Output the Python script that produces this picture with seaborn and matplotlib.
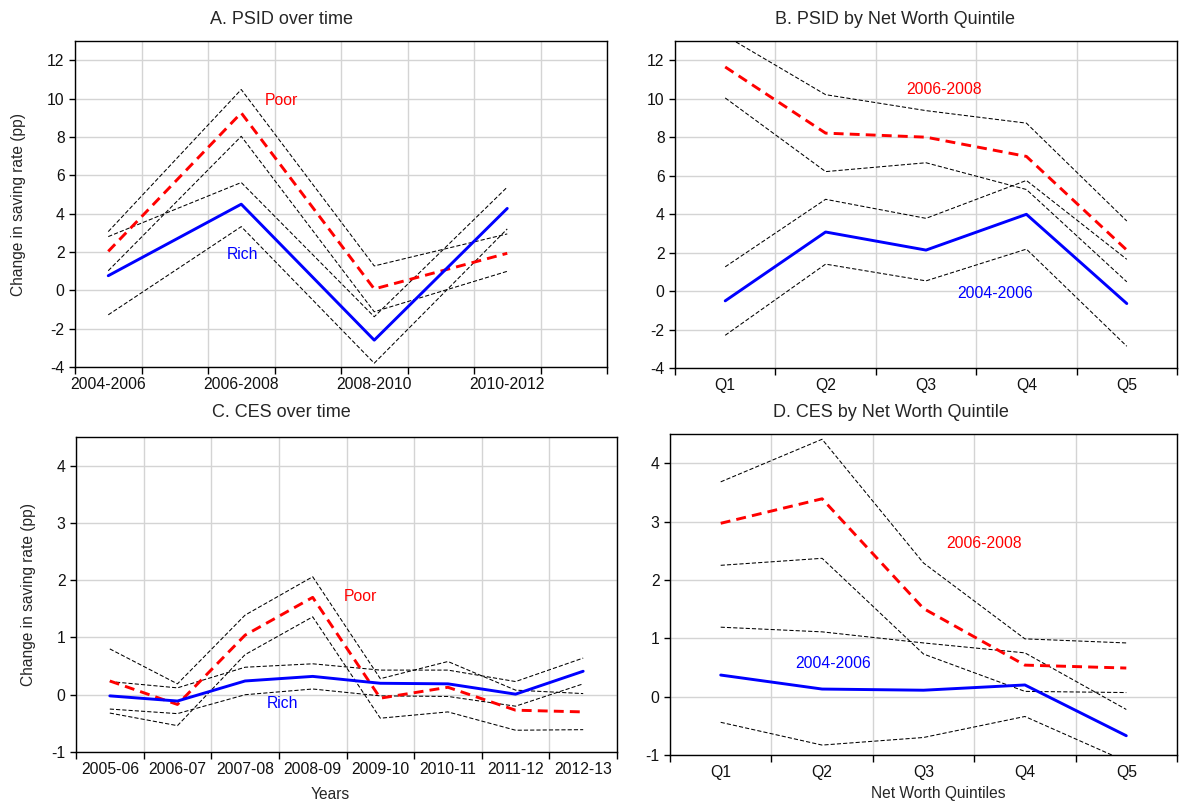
import numpy as np
import pandas as pd
import matplotlib
matplotlib.use("Agg")
import matplotlib.pyplot as plt
import seaborn as sns

# ---------------- data ----------------
# Panel A: PSID over time
psid_periods = ["2004-2006", "2006-2008", "2008-2010", "2010-2012"]
psid_poor = [2.03, 9.25, 0.07, 1.93]
psid_poor_hi = [3.06, 10.47, 1.27, 2.94]
psid_poor_lo = [1.02, 8.03, -1.12, 0.99]
psid_rich = [0.76, 4.49, -2.60, 4.27]
psid_rich_hi = [2.80, 5.62, -1.38, 5.38]
psid_rich_lo = [-1.28, 3.32, -3.80, 3.20]

# Panel B: PSID by net worth quintile
quintiles = ["Q1", "Q2", "Q3", "Q4", "Q5"]
psidq_0608 = [11.65, 8.21, 8.00, 7.00, 2.13]
psidq_0608_hi = [13.28, 10.21, 9.38, 8.73, 3.64]
psidq_0608_lo = [10.04, 6.21, 6.67, 5.28, 0.48]
psidq_0406 = [-0.51, 3.07, 2.13, 3.99, -0.65]
psidq_0406_hi = [1.26, 4.77, 3.78, 5.75, 1.65]
psidq_0406_lo = [-2.30, 1.40, 0.53, 2.18, -2.87]

# Panel C: CES over time
ces_years = ["2005-06", "2006-07", "2007-08", "2008-09",
             "2009-10", "2010-11", "2011-12", "2012-13"]
ces_poor = [0.24, -0.17, 1.04, 1.70, -0.06, 0.13, -0.27, -0.30]
ces_poor_hi = [0.80, 0.19, 1.39, 2.06, 0.28, 0.58, 0.08, 0.02]
ces_poor_lo = [-0.32, -0.54, 0.70, 1.36, -0.41, -0.30, -0.62, -0.61]
ces_rich = [-0.02, -0.11, 0.24, 0.32, 0.20, 0.19, 0.01, 0.41]
ces_rich_hi = [0.23, 0.12, 0.48, 0.54, 0.43, 0.43, 0.23, 0.64]
ces_rich_lo = [-0.25, -0.33, 0.00, 0.10, -0.02, -0.03, -0.20, 0.19]

# Panel D: CES by net worth quintile
cesq_0608 = [2.97, 3.39, 1.51, 0.54, 0.49]
cesq_0608_hi = [3.68, 4.41, 2.29, 0.99, 0.92]
cesq_0608_lo = [2.25, 2.37, 0.73, 0.09, 0.07]
cesq_0406 = [0.37, 0.13, 0.11, 0.20, -0.67]
cesq_0406_hi = [1.19, 1.11, 0.92, 0.75, -0.22]
cesq_0406_lo = [-0.44, -0.83, -0.70, -0.34, -1.11]

# ---------------- style ----------------
sns.set_theme(style="white")
plt.rcParams["font.family"] = ["Liberation Sans", "DejaVu Sans"]
plt.rcParams["axes.unicode_minus"] = False

RED = "#ff0000"
BLUE = "#0000ff"
GRID = "#d4d4d4"
TICK_FS = 11.3
ANN_FS = 11.3

fig = plt.figure(figsize=(11.82, 8.02), dpi=100)
W, H = 1182.0, 802.0


def make_ax(l, r, t, b):
    return fig.add_axes([l / W, 1 - b / H, (r - l) / W, (b - t) / H])


axA = make_ax(75, 607, 41, 367)
axB = make_ax(675, 1177, 41, 368)
axC = make_ax(76, 617, 437, 752)
axD = make_ax(670, 1177, 434, 755)


def draw(ax, x, main_red, main_blue, bands):
    for vals in bands:
        sns.lineplot(x=x, y=vals, ax=ax, color="black", linewidth=0.75,
                     linestyle=(0, (4, 2)), sort=False, errorbar=None)
    sns.lineplot(x=x, y=main_red, ax=ax, color=RED, linewidth=2.1,
                 linestyle=(0, (3.4, 2.1)), sort=False, errorbar=None)
    sns.lineplot(x=x, y=main_blue, ax=ax, color=BLUE, linewidth=2.1,
                 sort=False, errorbar=None)


def style_ax(ax, xmajor, xlabels, xminor, xlim, yticks, ylim):
    ax.set_xlim(*xlim)
    ax.set_ylim(*ylim)
    ax.set_xticks(xmajor)
    ax.set_xticklabels(xlabels)
    ax.set_xticks(xminor, minor=True)
    ax.set_yticks(yticks)
    ax.set_yticklabels([str(v) for v in yticks])
    ax.tick_params(axis="x", which="major", length=0, labelsize=TICK_FS, pad=7,
                   colors="#111111")
    ax.tick_params(axis="x", which="minor", length=5, width=1.0,
                   direction="out", color="black", bottom=True)
    ax.tick_params(axis="y", which="major", length=4, width=1.0,
                   direction="out", labelsize=TICK_FS, left=True,
                   colors="#111111")
    ax.tick_params(axis="y", which="major", color="black")
    ax.grid(False)
    ax.grid(True, which="minor", axis="x", color=GRID, linewidth=1.0)
    ax.grid(True, which="major", axis="y", color=GRID, linewidth=1.0)
    ax.set_axisbelow(True)
    for sp in ax.spines.values():
        sp.set_visible(True)
        sp.set_color("black")
        sp.set_linewidth(1.0)
    ax.set_xlabel("")
    ax.set_ylabel("")


# ---- Panel A ----
psid_x = [int(p[:4]) + 0.5 for p in psid_periods]
draw(axA, psid_x, psid_poor, psid_rich,
     [psid_poor_hi, psid_poor_lo, psid_rich_hi, psid_rich_lo])
style_ax(axA, psid_x, psid_periods, np.arange(2004, 2013), (2004, 2012),
         list(range(-4, 13, 2)), (-4, 13))
axA.text(2007.1, 9.9, "Poor", color=RED, fontsize=ANN_FS, ha="center", va="center")
axA.text(2006.52, 1.86, "Rich", color=BLUE, fontsize=ANN_FS, ha="center", va="center")
axA.set_ylabel("Change in saving rate (pp)", fontsize=11.2, labelpad=15)

# ---- Panel B ----
draw(axB, quintiles, psidq_0608, psidq_0406,
     [psidq_0608_hi, psidq_0608_lo, psidq_0406_hi, psidq_0406_lo])
style_ax(axB, np.arange(len(quintiles)), quintiles,
         np.arange(len(quintiles) + 1) - 0.5, (-0.5, len(quintiles) - 0.5),
         list(range(-4, 13, 2)), (-4, 13))
axB.text(2.18, 10.5, "2006-2008", color=RED, fontsize=ANN_FS, ha="center", va="center")
axB.text(2.69, -0.13, "2004-2006", color=BLUE, fontsize=ANN_FS, ha="center", va="center")

# ---- Panel C ----
ces_x = [int(p[:4]) + 0.5 for p in ces_years]
draw(axC, ces_x, ces_poor, ces_rich,
     [ces_poor_hi, ces_poor_lo, ces_rich_hi, ces_rich_lo])
style_ax(axC, ces_x, ces_years, np.arange(2005, 2014), (2005, 2013),
         list(range(-1, 5)), (-1, 4.5))
axC.text(2009.2, 1.71, "Poor", color=RED, fontsize=ANN_FS, ha="center", va="center")
axC.text(2008.05, -0.15, "Rich", color=BLUE, fontsize=ANN_FS, ha="center", va="center")
axC.set_ylabel("Change in saving rate (pp)", fontsize=11.2, labelpad=11)
axC.set_xlabel("Years", fontsize=11.2)
axC.xaxis.set_label_coords(0.47, -0.112)

# ---- Panel D ----
draw(axD, quintiles, cesq_0608, cesq_0406,
     [cesq_0608_hi, cesq_0608_lo, cesq_0406_hi, cesq_0406_lo])
style_ax(axD, np.arange(len(quintiles)), quintiles,
         np.arange(len(quintiles) + 1) - 0.5, (-0.5, len(quintiles) - 0.5),
         list(range(-1, 5)), (-1, 4.5))
axD.text(2.6, 2.62, "2006-2008", color=RED, fontsize=ANN_FS, ha="center", va="center")
axD.text(1.11, 0.57, "2004-2006", color=BLUE, fontsize=ANN_FS, ha="center", va="center")
axD.set_xlabel("Net Worth Quintiles", fontsize=11.2)
axD.xaxis.set_label_coords(0.53, -0.097)

# ---- titles ----
fig.text(281 / W, 1 - 20 / H, "A. PSID over time", fontsize=13, ha="center", va="center")
fig.text(895 / W, 1 - 20 / H, "B. PSID by Net Worth Quintile", fontsize=13, ha="center", va="center")
fig.text(281 / W, 1 - 413 / H, "C. CES over time", fontsize=13, ha="center", va="center")
fig.text(891 / W, 1 - 413 / H, "D. CES by Net Worth Quintile", fontsize=13, ha="center", va="center")

fig.savefig("out.png", dpi=100, facecolor="white")
